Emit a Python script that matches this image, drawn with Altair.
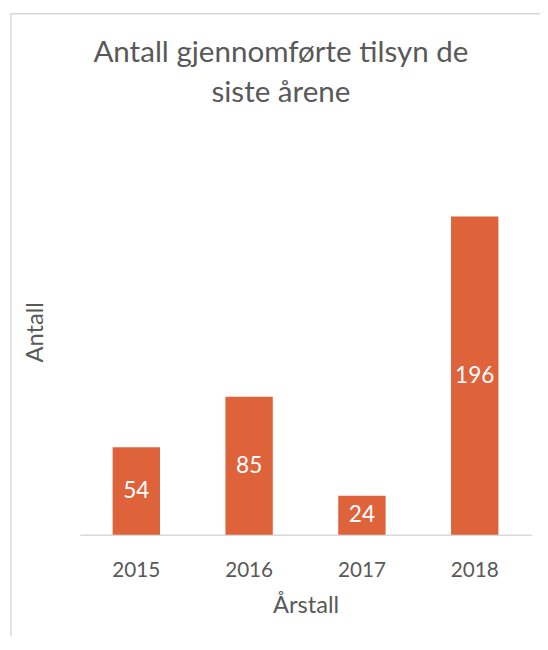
import altair as alt
import pandas as pd

years = ["2015", "2016", "2017", "2018"]
counts = [54, 85, 24, 196]

df = pd.DataFrame({"year": years, "count": counts})

FONT = "Lato"
GREY = "#595959"
BAR = "#DE633B"

x_enc = alt.X(
    "year:N",
    sort=years,
    title="Årstall",
    scale=alt.Scale(paddingInner=0.58, paddingOuter=0.29),
    axis=alt.Axis(
        labelAngle=0,
        labelFontSize=21,
        labelColor=GREY,
        labelFont=FONT,
        labelPadding=25,
        titleFontSize=24,
        titleFont=FONT,
        titleColor=GREY,
        titleFontWeight="normal",
        titlePadding=14,
        ticks=False,
        domainColor="#D9D9D9",
        domainWidth=1.5,
        grid=False,
    ),
)

y_scale = alt.Scale(domain=[0, 250])

bars = alt.Chart(df).mark_bar(color=BAR).encode(
    x=x_enc,
    y=alt.Y(
        "count:Q",
        scale=y_scale,
        title="Antall",
        axis=alt.Axis(
            labels=False,
            ticks=False,
            domain=False,
            grid=False,
            titleFontSize=24,
            titleFont=FONT,
            titleColor=GREY,
            titleFontWeight="normal",
            titlePadding=33,
        ),
    ),
)

labels = (
    alt.Chart(df)
    .transform_calculate(mid="datum.count / 2")
    .mark_text(color="white", fontSize=23, font=FONT, baseline="middle")
    .encode(
        x=alt.X("year:N", sort=years),
        y=alt.Y("mid:Q", scale=y_scale),
        text=alt.Text("count:Q"),
    )
)

border = (
    alt.Chart(pd.DataFrame({"b": [0]}))
    .mark_rect(fillOpacity=0, stroke="#D9D9D9", strokeWidth=1.5)
    .encode(
        x=alt.value(-70),
        x2=alt.value(700),
        y=alt.value(-117),
        y2=alt.value(800),
    )
)

chart = (
    alt.layer(border, bars, labels)
    .properties(
        width=458,
        height=412,
        autosize=alt.AutoSizeParams(type="none"),
        padding={"left": 73, "top": 118, "right": 9, "bottom": 98},
        title=alt.TitleParams(
            text=["Antall gjennomførte tilsyn de", "siste årene"],
            fontSize=30,
            font=FONT,
            color=GREY,
            fontWeight="normal",
            anchor="middle",
            baseline="alphabetic",
            lineHeight=40,
            dx=-25,
            offset=-120,
        ),
    )
    .configure_view(strokeWidth=0)
)

chart.save("out.html", embed_options={"renderer": "svg", "actions": False})
